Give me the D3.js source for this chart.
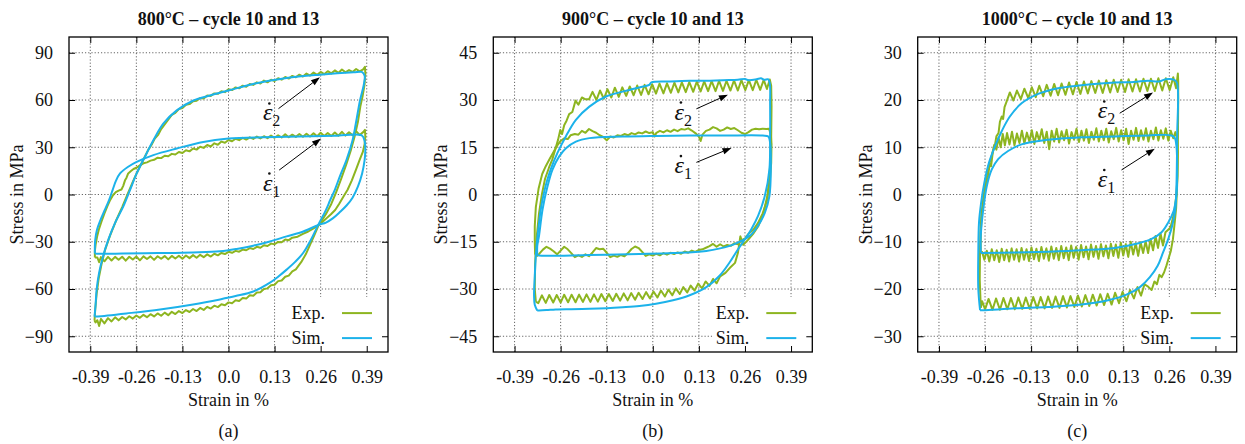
<!DOCTYPE html>
<html>
<head>
<meta charset="utf-8">
<script src="https://cdn.jsdelivr.net/npm/d3@7"></script>
<style>
  body { margin: 0; background: #fff; }
  text { font-family: "Liberation Serif", "Times New Roman", serif; }
</style>
</head>
<body>
<svg id="fig" width="1245" height="444"></svg>
<script>
// ---- axis ticks / labels ----
const strainTicks = [-0.39, -0.26, -0.13, 0, 0.13, 0.26, 0.39];
const strainTickLabels = ["-0.39", "-0.26", "-0.13", "0.0", "0.13", "0.26", "0.39"];
const stressTicks800 = [-90, -60, -30, 0, 30, 60, 90];
const stressTicks900 = [-45, -30, -15, 0, 15, 30, 45];
const stressTicks1000 = [-30, -20, -10, 0, 10, 20, 30];
const stressLimits = [100, 50, 100 / 3];
const panelTitles = ["800°C – cycle 10 and 13", "900°C – cycle 10 and 13", "1000°C – cycle 10 and 13"];
const panelLetters = ["(a)", "(b)", "(c)"];
const seriesNames = ["Exp.", "Sim."];

// ---- 800°C ----
const sim800Rate2 = [[-0.378,-77.5],[-0.375,-70],[-0.372,-60.3],[-0.365,-49.6],[-0.354,-39.3],[-0.339,-28.7],[-0.32,-18],[-0.297,-7.7],[-0.278,2.8],[-0.259,13.4],[-0.236,23.9],[-0.212,34.4],[-0.184,45],[-0.146,53.4],[-0.099,59.7],[-0.052,62.9],[0,66],[0.07,70.2],[0.164,74],[0.258,76.1],[0.353,77.6],[0.376,77.8],[0.384,75.5],[0.382,70],[0.371,59.7],[0.36,46],[0.35,34.4],[0.333,22],[0.315,12],[0.3,3],[0.287,-3.5],[0.275,-9.8],[0.253,-19.3],[0.233,-28.5],[0.211,-37],[0.188,-42.8],[0.164,-47.7],[0.14,-52.2],[0.117,-56],[0.07,-61.6],[0.02,-64.5],[-0.024,-66.6],[-0.1,-69.8],[-0.193,-73],[-0.288,-75.5],[-0.369,-77.4],[-0.378,-77.5]];
const sim800Rate1 = [[-0.377,-37.5],[-0.377,-33],[-0.376,-28.8],[-0.371,-22.4],[-0.361,-16.1],[-0.349,-9.8],[-0.337,-3.5],[-0.327,2.8],[-0.318,8.5],[-0.306,13.4],[-0.283,17.6],[-0.259,20.7],[-0.212,25],[-0.146,29.2],[-0.071,33.4],[0,35.5],[0.1,36.4],[0.2,36.9],[0.3,37.3],[0.376,37.5],[0.384,34],[0.386,28],[0.384,21.8],[0.377,13.4],[0.365,5],[0.35,-2],[0.333,-7],[0.315,-11],[0.295,-15],[0.275,-17.8],[0.254,-19.3],[0.211,-23.5],[0.164,-26.6],[0.117,-29.8],[0.07,-32.5],[0.023,-34.6],[-0.024,-36.1],[-0.1,-36.8],[-0.2,-37.2],[-0.3,-37.5],[-0.37,-37.6],[-0.377,-37.5]];
const exp800Rate2 = [[-0.378,-80],[-0.376,-73],[-0.372,-63],[-0.366,-53],[-0.358,-44],[-0.348,-35],[-0.334,-26],[-0.318,-17],[-0.3,-8],[-0.285,0],[-0.27,8],[-0.258,14],[-0.246,19.5],[-0.236,24],[-0.226,28.5],[-0.216,32],[-0.208,35.5],[-0.198,38],[-0.19,41.5],[-0.18,44.5],[-0.17,47.5],
  [-0.16,50.5],[-0.15,51.8],[-0.14,54.2],[-0.13,54.9],[-0.12,57.0],[-0.11,57.4],[-0.10,59.2],[-0.09,59.5],[-0.08,61.3],[-0.07,61.0],[-0.06,62.9],[-0.05,62.6],[-0.04,64.2],[-0.03,63.9],[-0.02,65.6],[-0.01,65.0],[0.0,66.8],[0.01,66.3],[0.02,68.0],[0.03,67.4],[0.04,69.1],[0.05,68.4],[0.06,70.2],[0.07,69.6],[0.08,71.2],[0.09,70.5],[0.10,72.3],[0.11,71.2],[0.12,72.9],[0.13,72.1],[0.14,73.8],[0.15,72.9],[0.16,74.6],[0.17,73.6],[0.18,75.3],[0.19,74.4],[0.20,76.1],[0.21,74.9],[0.22,76.8],[0.23,75.5],[0.24,77.4],[0.25,76.0],[0.26,77.8],[0.27,76.4],[0.28,78.3],[0.29,76.9],[0.30,78.8],[0.31,77.2],[0.32,79.4],[0.33,77.6],[0.34,79.0],[0.35,77.8],[0.36,79.7],[0.37,78.2],[0.38,79.4],[0.385,81],
  [0.386,77],[0.384,70],[0.378,62],[0.372,56],[0.365,46],[0.356,37],[0.345,28],[0.332,19],[0.318,10],[0.303,1],[0.29,-6],[0.276,-12],[0.262,-17],[0.253,-20],[0.242,-26],[0.23,-32],[0.218,-38],[0.205,-43],[0.19,-47.5],
  [0.18,-48.8],[0.17,-51.5],[0.16,-52.2],[0.15,-54.6],[0.14,-55.0],[0.13,-57.3],[0.12,-57.6],[0.11,-59.6],[0.10,-60.0],[0.09,-62.1],[0.08,-62.2],[0.07,-64.3],[0.06,-64.0],[0.05,-66.1],[0.04,-65.7],[0.03,-67.6],[0.02,-67.2],[0.01,-69.0],[0.0,-68.5],[-0.01,-70.3],[-0.02,-69.7],[-0.03,-71.5],[-0.04,-70.6],[-0.05,-72.4],[-0.06,-71.3],[-0.07,-73.3],[-0.08,-72.0],[-0.09,-74.0],[-0.10,-72.7],[-0.11,-74.6],[-0.12,-73.4],[-0.13,-75.3],[-0.14,-74.0],[-0.15,-75.9],[-0.16,-74.5],[-0.17,-76.6],[-0.18,-75.0],[-0.19,-77.0],[-0.20,-75.5],[-0.21,-77.4],[-0.22,-76.0],[-0.23,-77.9],[-0.24,-76.4],[-0.25,-78.3],[-0.26,-76.8],[-0.27,-78.8],[-0.28,-77.3],[-0.29,-79.3],[-0.30,-77.8],[-0.31,-79.9],[-0.32,-78.0],[-0.33,-80.6],[-0.34,-78.5],[-0.35,-81.8],[-0.36,-79.0],[-0.365,-83.5],[-0.37,-79.8],[-0.375,-81.2],[-0.378,-80]];
const exp800Rate1 = [[-0.377,-40],[-0.377,-36],[-0.375,-32],[-0.371,-27],[-0.366,-22.4],[-0.358,-17],[-0.35,-12],[-0.342,-7.5],[-0.335,-4],[-0.326,-0.5],[-0.318,1.5],[-0.31,2.5],[-0.302,3.2],[-0.297,5.5],[-0.292,9],[-0.288,10.5],[-0.283,13.4],[-0.276,14.8],[-0.268,16.2],[-0.26,17],[-0.25,18.5],[-0.24,19.8],[-0.23,20.4],[-0.22,21.5],[-0.21,22.0],[-0.2,23.4],[-0.19,23.1],[-0.18,24.6],[-0.17,24.3],[-0.16,25.8],[-0.15,25.4],[-0.14,27.0],[-0.13,26.3],[-0.12,28.1],[-0.11,27.4],[-0.10,29.2],[-0.09,28.5],[-0.08,30.3],[-0.07,29.6],[-0.06,31.4],[-0.05,30.5],[-0.04,32.5],[-0.03,31.6],[-0.02,33.6],[-0.01,32.9],[0.0,34.6],[0.01,33.8],[0.02,35.4],[0.03,34.5],[0.04,36.0],[0.05,34.9],[0.06,36.3],[0.07,35.3],[0.08,36.8],[0.09,35.6],[0.10,37.0],[0.11,35.8],[0.12,37.4],[0.13,36.0],[0.14,37.6],[0.15,36.2],[0.16,38.2],[0.17,36.4],[0.18,38.0],[0.19,36.6],[0.20,38.4],[0.21,36.7],[0.22,38.6],[0.23,36.8],[0.24,38.9],[0.25,37.0],[0.26,39.2],[0.27,37.1],[0.28,39.0],[0.29,37.2],[0.30,39.4],[0.31,37.3],[0.32,39.8],[0.33,37.4],[0.34,39.5],[0.35,37.6],[0.36,40.2],[0.37,37.8],[0.38,39.6],[0.385,41],
  [0.386,37],[0.384,32],[0.379,27],[0.37,22],[0.36,16],[0.348,9],[0.336,3],[0.324,-1.4],[0.312,-6],[0.301,-9.8],[0.289,-12.5],[0.277,-15],[0.265,-17.4],[0.254,-19.5],[0.24,-21.5],[0.225,-23.5],[0.21,-25],[0.195,-26.8],[0.18,-27.4],[0.17,-29.0],[0.16,-28.6],[0.15,-30.3],[0.14,-30.1],[0.13,-31.6],[0.12,-31.2],[0.11,-32.7],[0.10,-32.2],[0.09,-33.8],[0.08,-33.2],[0.07,-34.6],[0.06,-34.0],[0.05,-35.4],[0.04,-35.0],[0.03,-36.3],[0.02,-35.8],[0.01,-37.0],[0.0,-36.4],[-0.01,-37.8],[-0.02,-37.1],[-0.03,-38.6],[-0.04,-37.6],[-0.05,-39.4],[-0.06,-38.0],[-0.07,-39.8],[-0.08,-38.3],[-0.09,-40.2],[-0.10,-38.5],[-0.11,-40.4],[-0.12,-38.7],[-0.13,-40.8],[-0.14,-38.9],[-0.15,-40.6],[-0.16,-39.0],[-0.17,-41.2],[-0.18,-39.1],[-0.19,-40.8],[-0.20,-39.2],[-0.21,-41.5],[-0.22,-39.3],[-0.23,-41.0],[-0.24,-39.3],[-0.25,-41.8],[-0.26,-39.4],[-0.27,-41.3],[-0.28,-39.5],[-0.29,-42.0],[-0.30,-39.5],[-0.31,-41.4],[-0.32,-39.6],[-0.33,-41.9],[-0.34,-39.6],[-0.35,-42.4],[-0.36,-39.7],[-0.365,-43],[-0.37,-40],[-0.377,-40]];

// ---- 900°C ----
const sim900Rate2 = [[-0.326,-36.8],[-0.333,-35],[-0.335,-32],[-0.333,-26],[-0.33,-19.4],[-0.326,-14],[-0.321,-8.9],[-0.315,-4],[-0.307,0.6],[-0.298,4.5],[-0.288,8],[-0.269,13.2],[-0.245,18.5],[-0.217,23.7],[-0.179,27.9],[-0.132,31.1],[-0.066,33.2],[-0.03,34.2],[-0.01,34.8],[-0.004,35.6],[0.05,35.9],[0.104,36.1],[0.15,36.1],[0.198,36.3],[0.24,36.4],[0.26,36.7],[0.27,36.3],[0.293,36.6],[0.305,36.9],[0.315,36.4],[0.325,36.6],[0.33,35.3],[0.331,29],[0.331,18.5],[0.329,8],[0.316,-0.5],[0.297,-6.8],[0.278,-11],[0.26,-14.2],[0.241,-17.3],[0.217,-21.5],[0.189,-25.7],[0.151,-29.4],[0.104,-32],[0.057,-33.6],[0.009,-34.7],[-0.038,-35.4],[-0.085,-35.8],[-0.13,-36.1],[-0.179,-36.3],[-0.23,-36.4],[-0.274,-36.5],[-0.3,-36.7],[-0.321,-36.8],[-0.326,-36.8]];
const sim900Rate1 = [[-0.326,-19.2],[-0.326,-16.4],[-0.321,-13.1],[-0.311,-4.7],[-0.297,2.6],[-0.283,7.9],[-0.264,12.1],[-0.245,14.7],[-0.217,16.8],[-0.179,17.9],[-0.085,18.4],[0.009,18.6],[0.104,18.7],[0.198,18.7],[0.31,18.7],[0.326,18.4],[0.331,16.4],[0.333,8],[0.329,-0.5],[0.316,-5.8],[0.297,-9.9],[0.274,-13.1],[0.25,-14.7],[0.217,-16.3],[0.151,-17.9],[0.057,-18.6],[-0.038,-18.9],[-0.179,-19.2],[-0.321,-19.4],[-0.326,-19.2]];
const exp900Rate2 = [[-0.33,-34],[-0.333,-30],[-0.332,-22],[-0.328,-14],[-0.321,-6],[-0.313,0],[-0.304,5],[-0.293,8.5],[-0.284,11],[-0.276,14],[-0.267,17.5],[-0.261,20.5],[-0.256,19.2],[-0.25,22],[-0.243,23.5],[-0.236,25.5],[-0.227,26.2],[-0.218,29.8],[-0.21,28.5],[-0.2,30.8],[-0.19,30.2],
  [-0.180,30.2],[-0.170,32.6],[-0.159,30.0],[-0.149,33.0],[-0.138,30.4],[-0.128,33.4],[-0.117,30.8],[-0.107,33.9],[-0.096,31.0],[-0.086,34.0],[-0.075,31.3],[-0.065,34.3],[-0.054,31.5],[-0.044,34.6],[-0.033,31.6],[-0.023,34.8],[-0.012,31.8],[-0.002,35.0],[0.009,32.0],[0.019,35.2],[0.030,32.1],[0.040,35.3],[0.051,32.3],[0.061,35.5],[0.072,32.4],[0.082,35.6],[0.093,32.5],[0.103,35.7],[0.114,32.6],[0.124,35.8],[0.135,32.7],[0.145,35.9],[0.156,32.8],[0.166,36.0],[0.177,32.8],[0.187,36.1],[0.198,32.9],[0.208,36.1],[0.219,33.0],[0.229,36.2],[0.240,33.0],[0.250,36.3],[0.261,33.1],[0.271,36.3],[0.282,33.1],[0.292,36.4],[0.303,33.2],[0.313,36.4],[0.322,33.5],[0.33,36.5],
  [0.334,34.5],[0.335,28],[0.334,18],[0.331,9],[0.324,0],[0.312,-6],[0.298,-10],[0.283,-12.5],[0.268,-14.5],[0.255,-16],[0.247,-13.3],[0.24,-18.6],[0.232,-21.7],[0.22,-23],[0.205,-24.9],[0.19,-26.0],
  [0.18,-28.2],[0.17,-26.8],[0.16,-29.0],[0.149,-27.6],[0.139,-29.8],[0.128,-28.3],[0.118,-30.5],[0.107,-28.9],[0.097,-31.1],[0.086,-29.4],[0.076,-31.6],[0.065,-29.8],[0.055,-32.0],[0.044,-30.2],[0.034,-32.4],[0.023,-30.5],[0.013,-32.7],[0.002,-30.8],[-0.008,-33.0],[-0.019,-31.0],[-0.029,-33.2],[-0.040,-31.2],[-0.050,-33.4],[-0.061,-31.3],[-0.071,-33.6],[-0.082,-31.4],[-0.092,-33.7],[-0.103,-31.5],[-0.113,-33.8],[-0.124,-31.6],[-0.134,-33.9],[-0.145,-31.6],[-0.155,-34.0],[-0.166,-31.7],[-0.176,-34.1],[-0.187,-31.7],[-0.197,-34.1],[-0.208,-31.8],[-0.218,-34.2],[-0.229,-31.8],[-0.239,-34.2],[-0.250,-31.8],[-0.260,-34.3],[-0.271,-31.9],[-0.281,-34.3],[-0.292,-31.9],[-0.302,-34.4],[-0.313,-32.0],[-0.323,-34.5],[-0.33,-34]];
const exp900Rate1 = [[-0.332,-19],[-0.333,-15],[-0.333,-10],[-0.33,-4],[-0.322,2],[-0.312,6.5],[-0.302,9],[-0.29,11.5],[-0.28,13.5],[-0.27,15.5],[-0.26,17],[-0.25,17.8],[-0.24,17.6],[-0.232,18.8],[-0.22,19.2],[-0.21,19.0],[-0.2,20.2],[-0.19,19.6],[-0.18,20.8],[-0.17,20.1],[-0.16,19.6],[-0.15,18.8],[-0.14,18.3],[-0.13,17.2],[-0.12,18.4],[-0.11,18.1],[-0.1,18.8],[-0.09,18.6],[-0.08,19.2],[-0.07,18.8],[-0.06,19.5],[-0.05,19.1],[-0.04,19.7],[-0.03,19.4],[-0.02,20.0],[-0.01,19.5],[0,19.8],[0.005,18.4],[0.01,19.6],[0.02,20.2],[0.03,19.7],[0.04,20.4],[0.05,19.9],[0.06,20.6],[0.07,20.1],[0.08,20.8],[0.09,20.6],[0.1,21.0],[0.11,20.3],[0.12,19.5],[0.13,18.4],[0.135,17.0],[0.14,19.0],[0.15,20.2],[0.16,20.6],[0.17,21.4],[0.18,21.0],[0.19,20.2],[0.2,20.6],[0.21,21.3],[0.22,20.8],[0.23,21.1],[0.24,20.4],[0.25,19.6],[0.26,19.2],[0.27,19.8],[0.28,20.6],[0.29,20.9],[0.3,20.7],[0.31,20.9],[0.32,20.8],[0.328,20.9],[0.333,19],
  [0.335,16],[0.334,10],[0.33,4],[0.322,-2],[0.31,-6],[0.297,-9],[0.285,-11],[0.27,-12.5],[0.26,-14],[0.25,-14.5],[0.24,-15.8],[0.23,-15.5],[0.22,-16.3],[0.21,-16],[0.2,-16.5],[0.19,-15.8],[0.18,-16.6],[0.17,-15.7],[0.16,-16.4],[0.15,-16.9],[0.14,-17.4],
  [0.13,-17.6],[0.12,-18.2],[0.11,-17.8],[0.1,-18.5],[0.09,-18.1],[0.08,-18.8],[0.07,-18.4],[0.06,-18.9],[0.05,-18.5],[0.04,-19.1],[0.03,-18.6],[0.02,-19.3],[0.01,-18.8],[0.0,-19.4],[-0.01,-19.0],[-0.02,-19.5],[-0.03,-18.2],[-0.04,-17.0],[-0.05,-16.5],[-0.06,-17.3],[-0.07,-18.6],[-0.08,-19.6],[-0.09,-19.2],[-0.1,-19.8],[-0.11,-19.4],[-0.12,-19.9],[-0.13,-18.5],[-0.14,-17.2],[-0.15,-17.4],[-0.16,-17.0],[-0.17,-18.4],[-0.18,-19.6],[-0.19,-19.0],[-0.2,-19.8],[-0.21,-19.3],[-0.22,-19.9],[-0.23,-18.6],[-0.24,-17.4],[-0.25,-16.6],[-0.26,-17.8],[-0.27,-19.0],[-0.28,-18.0],[-0.29,-17.2],[-0.3,-16.6],[-0.31,-17.5],[-0.32,-18.8],[-0.327,-19.5],[-0.332,-19]];

// ---- 1000°C ----
const sim1000Rate2 = [[-0.274,-24.5],[-0.279,-20],[-0.279,-12.3],[-0.277,-5.9],[-0.271,-1.7],[-0.262,2.5],[-0.249,6.7],[-0.232,10.2],[-0.213,13.4],[-0.19,16.5],[-0.157,19.3],[-0.11,21.3],[-0.054,22.5],[0.012,23.1],[0.106,23.7],[0.16,23.8],[0.2,24.1],[0.23,23.9],[0.25,24.4],[0.275,24.2],[0.282,23.5],[0.282,12.3],[0.28,1.8],[0.277,-3.1],[0.268,-6.6],[0.257,-9.4],[0.242,-12.3],[0.227,-15.1],[0.205,-17.5],[0.177,-19.6],[0.139,-21.2],[0.087,-22.4],[0.012,-23.3],[-0.082,-23.8],[-0.176,-24.1],[-0.265,-24.5],[-0.274,-24.5]];
const sim1000Rate1 = [[-0.272,-12.4],[-0.272,-8.7],[-0.265,-3.1],[-0.255,1.8],[-0.241,5.3],[-0.223,7.5],[-0.195,9.2],[-0.157,10.6],[-0.082,11.6],[0.012,12.1],[0.106,12.3],[0.2,12.5],[0.266,12.5],[0.275,12],[0.28,10.2],[0.282,4.2],[0.28,0],[0.272,-3.5],[0.257,-5.9],[0.238,-8],[0.21,-9.4],[0.173,-10.3],[0.106,-11.3],[0.012,-11.8],[-0.082,-12.1],[-0.176,-12.3],[-0.27,-12.4],[-0.272,-12.4]];
const exp1000Rate2 = [[-0.272,-24],[-0.275,-18],[-0.274,-11],[-0.27,-5],[-0.264,-1],[-0.258,2],[-0.252,3.5],[-0.247,6.5],[-0.243,6],[-0.238,9],[-0.232,10.5],[-0.228,12.3],[-0.222,13],[-0.218,15.4],[-0.213,16.5],[-0.209,16],[-0.205,18.5],
  [-0.200,19.5],[-0.190,21.6],[-0.180,19.9],[-0.170,22.0],[-0.159,20.2],[-0.149,22.4],[-0.138,20.4],[-0.128,22.7],[-0.117,20.6],[-0.107,23.0],[-0.096,20.8],[-0.086,23.2],[-0.075,20.9],[-0.065,23.4],[-0.054,21.0],[-0.044,23.5],[-0.033,21.1],[-0.023,23.7],[-0.012,21.2],[-0.002,23.8],[0.009,21.3],[0.019,23.9],[0.030,21.4],[0.040,24.0],[0.051,21.5],[0.061,24.1],[0.072,21.5],[0.082,24.2],[0.093,21.6],[0.103,24.3],[0.114,21.7],[0.124,24.3],[0.135,21.7],[0.145,24.4],[0.156,21.8],[0.166,24.4],[0.177,21.8],[0.187,24.5],[0.198,21.9],[0.208,24.5],[0.219,21.9],[0.229,24.6],[0.240,22.0],[0.250,24.6],[0.261,22.1],[0.271,24.8],[0.279,22.5],[0.284,25.6],
  [0.285,24],[0.285,20],[0.284,10],[0.282,2],[0.279,-3],[0.275,-6],[0.27,-9.5],[0.264,-12],[0.258,-13.5],[0.252,-15],[0.245,-16.5],[0.238,-17.5],[0.232,-17],[0.225,-19],[0.218,-18.4],[0.21,-20.2],[0.2,-19.5],
  [0.19,-19.0],[0.18,-21.4],[0.17,-19.6],[0.16,-22.0],[0.149,-20.2],[0.139,-22.6],[0.128,-20.6],[0.118,-23.0],[0.107,-20.8],[0.097,-23.3],[0.086,-21.0],[0.076,-23.4],[0.065,-21.1],[0.055,-23.5],[0.044,-21.2],[0.034,-23.6],[0.023,-21.3],[0.013,-23.7],[0.002,-21.4],[-0.008,-23.8],[-0.019,-21.5],[-0.029,-23.9],[-0.040,-21.5],[-0.050,-24.0],[-0.061,-21.6],[-0.071,-24.0],[-0.082,-21.6],[-0.092,-24.1],[-0.103,-21.7],[-0.113,-24.1],[-0.124,-21.7],[-0.134,-24.2],[-0.145,-21.8],[-0.155,-24.2],[-0.166,-21.8],[-0.176,-24.3],[-0.187,-21.9],[-0.197,-24.3],[-0.208,-21.9],[-0.218,-24.4],[-0.229,-22.0],[-0.239,-24.4],[-0.250,-22.1],[-0.260,-24.3],[-0.268,-22.6],[-0.272,-24]];
const exp1000Rate1 = [[-0.272,-12.5],[-0.273,-8],[-0.27,-4],[-0.265,-1],[-0.259,2.5],[-0.253,5],[-0.246,7],[-0.24,8.5],[-0.234,10.5],[-0.228,9.5],[-0.222,12],[-0.216,10],[-0.21,12.8],[-0.204,10.4],
  [-0.198,13.0],[-0.191,10.6],[-0.184,13.3],[-0.177,10.4],[-0.170,12.9],[-0.163,10.9],[-0.156,13.5],[-0.149,10.8],[-0.142,13.1],[-0.135,11.2],[-0.128,13.6],[-0.121,10.7],[-0.114,13.2],[-0.107,11.4],[-0.100,13.8],[-0.093,10.9],[-0.086,13.3],[-0.079,9.6],[-0.072,13.5],[-0.065,11.2],[-0.058,13.9],[-0.051,11.0],[-0.044,13.4],[-0.037,11.5],[-0.030,13.7],[-0.023,10.8],[-0.016,13.2],[-0.009,11.6],[-0.002,13.9],[0.005,11.1],[0.012,13.5],[0.019,11.4],[0.026,13.8],[0.033,10.9],[0.040,13.3],[0.047,11.6],[0.054,14.0],[0.061,11.2],[0.068,13.5],[0.075,11.5],[0.082,13.9],[0.089,11.0],[0.096,13.4],[0.103,11.7],[0.110,14.1],[0.117,11.2],[0.124,13.6],[0.131,11.5],[0.138,13.9],[0.145,10.7],[0.152,13.5],[0.159,11.6],[0.166,14.1],[0.173,11.3],[0.180,13.6],[0.187,11.6],[0.194,14.0],[0.201,11.2],[0.208,13.5],[0.215,11.7],[0.222,14.2],[0.229,11.4],[0.236,13.6],[0.243,11.8],[0.250,14.0],[0.257,11.4],[0.264,13.5],[0.271,11.9],[0.277,13.2],[0.281,12.0],
  [0.284,9],[0.283,4],[0.28,0],[0.275,-3],[0.27,-5],[0.263,-7],[0.256,-7.5],
  [0.249,-8.0],[0.242,-10.8],[0.235,-8.2],[0.228,-11.3],[0.221,-8.8],[0.214,-11.8],[0.207,-9.4],[0.200,-12.4],[0.193,-9.9],[0.186,-12.4],[0.179,-10.1],[0.172,-13.0],[0.165,-10.3],[0.158,-12.7],[0.151,-10.0],[0.144,-13.2],[0.137,-10.5],[0.130,-12.9],[0.123,-10.2],[0.116,-13.4],[0.109,-10.6],[0.102,-13.0],[0.095,-10.4],[0.088,-13.5],[0.081,-10.8],[0.074,-13.1],[0.067,-10.5],[0.060,-13.6],[0.053,-10.9],[0.046,-13.2],[0.039,-10.6],[0.032,-13.7],[0.025,-11.0],[0.018,-13.3],[0.011,-10.7],[0.004,-13.8],[-0.003,-11.1],[-0.010,-13.4],[-0.017,-10.8],[-0.024,-13.9],[-0.031,-11.2],[-0.038,-13.5],[-0.045,-10.9],[-0.052,-13.9],[-0.059,-11.3],[-0.066,-13.6],[-0.073,-11.0],[-0.080,-14.0],[-0.087,-11.4],[-0.094,-13.6],[-0.101,-11.1],[-0.108,-14.1],[-0.115,-11.5],[-0.122,-13.7],[-0.129,-11.2],[-0.136,-14.1],[-0.143,-11.6],[-0.150,-13.8],[-0.157,-11.3],[-0.164,-14.2],[-0.171,-11.6],[-0.178,-13.8],[-0.185,-11.4],[-0.192,-14.2],[-0.199,-11.7],[-0.206,-13.9],[-0.213,-11.5],[-0.220,-14.3],[-0.227,-11.8],[-0.234,-13.9],[-0.241,-11.6],[-0.248,-14.2],[-0.255,-11.9],[-0.262,-13.8],[-0.268,-12.2],[-0.272,-12.5]];

// rate annotations (strain, stress)
const rateArrows800 = [
  { sub: "2", from: [0.141, 54.5], to: [0.258, 74.4], at: [0.097, 47] },
  { sub: "1", from: [0.143, 15.5], to: [0.261, 35.5], at: [0.097, 2.5] }
];
const rateArrows900 = [
  { sub: "2", from: [0.123, 27.2], to: [0.212, 31.7], at: [0.061, 23.8] },
  { sub: "1", from: [0.123, 10.2], to: [0.222, 14.8], at: [0.061, 6.8] }
];
const rateArrows1000 = [
  { sub: "2", from: [0.12, 17.2], to: [0.214, 21.6], at: [0.058, 16.1] },
  { sub: "1", from: [0.125, 5.2], to: [0.219, 9.7], at: [0.058, 1.6] }
];

const expColor = "#8db520";
const simColor = "#1cb2ea";

const panels = [
  { yTicks: stressTicks800, exp: [exp800Rate1, exp800Rate2], sim: [sim800Rate1, sim800Rate2], arrows: rateArrows800 },
  { yTicks: stressTicks900, exp: [exp900Rate1, exp900Rate2], sim: [sim900Rate1, sim900Rate2], arrows: rateArrows900 },
  { yTicks: stressTicks1000, exp: [exp1000Rate1, exp1000Rate2], sim: [sim1000Rate1, sim1000Rate2], arrows: rateArrows1000 }
];

const svg = d3.select("#fig");
const plotTop = 37, plotW = 319, plotH = 315;
const panelLefts = [69, 493.3, 917.7];

panels.forEach(function (p, i) {
  var left = panelLefts[i];
  var right = left + plotW;
  var bottom = plotTop + plotH;
  var cx = left + plotW / 2;

  var x = d3.scaleLinear().domain([-0.45, 0.45]).range([left, right]);
  var y = d3.scaleLinear().domain([-stressLimits[i], stressLimits[i]]).range([bottom, plotTop]);

  var g = svg.append("g");

  svg.append("clipPath").attr("id", "clip" + i)
    .append("rect").attr("x", left).attr("y", plotTop).attr("width", plotW).attr("height", plotH);

  // grid
  g.selectAll(".vgrid").data(strainTicks).enter().append("line")
    .attr("x1", d => x(d)).attr("x2", d => x(d))
    .attr("y1", plotTop).attr("y2", bottom)
    .attr("stroke", "#666").attr("stroke-width", 1).attr("stroke-dasharray", "1.2,2");
  g.selectAll(".hgrid").data(p.yTicks).enter().append("line")
    .attr("x1", left).attr("x2", right)
    .attr("y1", d => y(d)).attr("y2", d => y(d))
    .attr("stroke", "#666").attr("stroke-width", 1).attr("stroke-dasharray", "1.2,2");

  // curves
  var line = d3.line().x(d => x(d[0])).y(d => y(d[1]));
  var simLine = d3.line().x(d => x(d[0])).y(d => y(d[1])).curve(d3.curveCatmullRom.alpha(0.5));
  var data = svg.append("g").attr("clip-path", "url(#clip" + i + ")");
  p.exp.forEach(function (s) {
    data.append("path").attr("d", line(s)).attr("fill", "none")
      .attr("stroke", expColor).attr("stroke-width", 2).attr("stroke-linejoin", "round");
  });
  p.sim.forEach(function (s) {
    data.append("path").attr("d", simLine(s)).attr("fill", "none")
      .attr("stroke", simColor).attr("stroke-width", 2).attr("stroke-linejoin", "round");
  });

  // legend
  var lg = svg.append("g");
  lg.append("rect").attr("x", right - 100).attr("y", 297).attr("width", 100).attr("height", bottom - 297).attr("fill", "#fff");
  [expColor, simColor].forEach(function (c, k) {
    var base = 318.6 + k * 25;
    lg.append("text").attr("x", right - 63).attr("y", base).attr("text-anchor", "end")
      .attr("font-size", 18).attr("fill", "#111").text(seriesNames[k]);
    lg.append("line").attr("x1", right - 46).attr("x2", right - 16)
      .attr("y1", base - 5.5).attr("y2", base - 5.5).attr("stroke", c).attr("stroke-width", 2);
  });

  // axes (ticks inside on all sides)
  var ax = svg.append("g").attr("transform", "translate(0," + bottom + ")")
    .call(d3.axisBottom(x).tickValues(strainTicks).tickFormat((d, k) => strainTickLabels[k]).tickSize(-6).tickSizeOuter(0).tickPadding(18));
  var ay = svg.append("g").attr("transform", "translate(" + left + ",0)")
    .call(d3.axisLeft(y).tickValues(p.yTicks).tickFormat(d3.format("d")).tickSize(-6).tickSizeOuter(0).tickPadding(16));
  var at = svg.append("g").attr("transform", "translate(0," + plotTop + ")")
    .call(d3.axisTop(x).tickValues(strainTicks).tickFormat("").tickSize(-6).tickSizeOuter(0));
  var ar = svg.append("g").attr("transform", "translate(" + right + ",0)")
    .call(d3.axisRight(y).tickValues(p.yTicks).tickFormat("").tickSize(-6).tickSizeOuter(0));
  [ax, ay, at, ar].forEach(function (a) {
    a.select(".domain").remove();
    a.selectAll(".tick line").attr("stroke", "#000").attr("stroke-width", 1);
    a.selectAll("text").attr("font-family", "Liberation Serif, serif").attr("font-size", 18).attr("fill", "#111");
  });

  // border
  svg.append("rect").attr("x", left).attr("y", plotTop).attr("width", plotW).attr("height", plotH)
    .attr("fill", "none").attr("stroke", "#000").attr("stroke-width", 1.3);

  // titles and labels
  svg.append("text").attr("x", cx).attr("y", 25).attr("text-anchor", "middle")
    .attr("font-size", 18).attr("font-weight", "bold").attr("fill", "#111").text(panelTitles[i]);
  svg.append("text").attr("x", cx).attr("y", 406).attr("text-anchor", "middle")
    .attr("font-size", 18).attr("fill", "#111").text("Strain in %");
  svg.append("text").attr("x", cx).attr("y", 437).attr("text-anchor", "middle")
    .attr("font-size", 18).attr("fill", "#111").text(panelLetters[i]);
  svg.append("text").attr("transform", "translate(" + (left - 46) + "," + y(0) + ") rotate(-90)")
    .attr("text-anchor", "middle").attr("font-size", 18).attr("fill", "#111").text("Stress in MPa");

  // strain-rate arrows
  p.arrows.forEach(function (a) {
    var x1 = x(a.from[0]), y1 = y(a.from[1]), x2 = x(a.to[0]), y2 = y(a.to[1]);
    var ang = Math.atan2(y2 - y1, x2 - x1);
    var len = 9, hw = 3.2;
    var bx = x2 - len * Math.cos(ang), by = y2 - len * Math.sin(ang);
    svg.append("line").attr("x1", x1).attr("y1", y1).attr("x2", bx).attr("y2", by)
      .attr("stroke", "#000").attr("stroke-width", 1);
    svg.append("path")
      .attr("d", "M" + x2 + "," + y2 +
        "L" + (bx + hw * Math.sin(ang)) + "," + (by - hw * Math.cos(ang)) +
        "L" + (bx - hw * Math.sin(ang)) + "," + (by + hw * Math.cos(ang)) + "Z")
      .attr("fill", "#000");
    var lx = x(a.at[0]), ly = y(a.at[1]);
    var t = svg.append("text").attr("x", lx).attr("y", ly).attr("font-size", 24)
      .attr("font-style", "italic").attr("fill", "#111");
    t.append("tspan").text("ε");
    t.append("tspan").attr("font-size", 16).attr("font-style", "normal").attr("dy", 6).text(a.sub);
    svg.append("circle").attr("cx", lx + 6.5).attr("cy", ly - 17).attr("r", 1.3).attr("fill", "#111");
  });
});
</script>
</body>
</html>
